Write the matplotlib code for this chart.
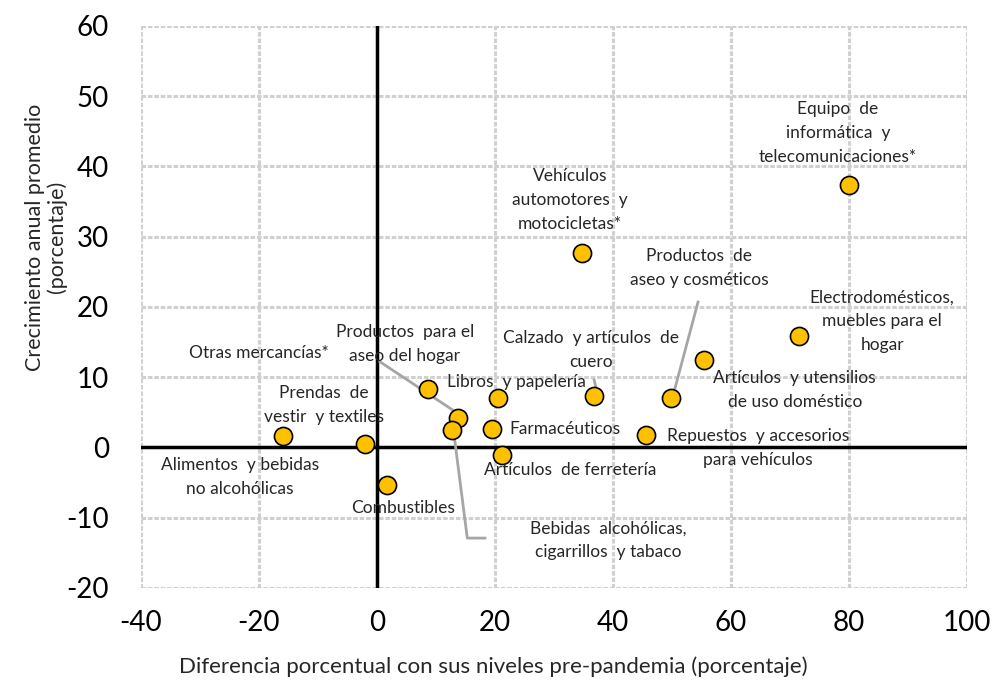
import matplotlib
matplotlib.use('Agg')
import matplotlib.pyplot as plt

plt.rcParams['font.family'] = ['Lato', 'DejaVu Sans']
plt.rcParams['axes.unicode_minus'] = False

# datos: diferencia vs pre-pandemia (x) y crecimiento anual promedio (y)
categorias = [
	'Alimentos  y bebidas\nno alcohólicas',
	'Prendas  de\nvestir  y textiles',
	'Combustibles',
	'Otras mercancías*',
	'Productos  para el\naseo del hogar',
	'Bebidas  alcohólicas,\ncigarrillos  y tabaco',
	'Libros  y papelería',
	'Farmacéuticos',
	'Artículos  de ferretería',
	'Vehículos\nautomotores  y\nmotocicletas*',
	'Calzado  y artículos  de\ncuero',
	'Repuestos  y accesorios\npara vehículos',
	'Productos  de\naseo y cosméticos',
	'Artículos  y utensilios\nde uso doméstico',
	'Electrodomésticos,\nmuebles para el\nhogar',
	'Equipo  de\ninformática  y\ntelecomunicaciones*',
]
dif_prepandemia = [-15.9, -2.0, 1.7, 8.6, 13.7, 12.7, 20.5, 19.5, 21.2, 34.7, 36.8, 45.6, 49.8, 55.4, 71.5, 80.0]
crec_anual = [1.6, 0.5, -5.3, 8.3, 4.2, 2.5, 7.0, 2.6, -1.1, 27.7, 7.3, 1.8, 7.0, 12.5, 15.9, 37.4]

x_ticks = [-40, -20, 0, 20, 40, 60, 80, 100]
y_ticks = [-20, -10, 0, 10, 20, 30, 40, 50, 60]

# posicion de las etiquetas (centro del texto) y lineas guia
label_pos = [(-23.2, -4.2), (-9.0, 6.0), (4.4, -8.6), (-20.0, 13.5), (4.7, 14.7),
	(39.2, -13.2), (23.6, 9.3), (31.9, 2.6), (32.7, -3.2), (32.7, 35.2),
	(36.3, 13.9), (64.6, -0.1), (54.6, 25.6), (70.8, 8.2), (85.6, 18.0), (78.1, 44.8)]
leaders = [
	[(0.5, 12.2), (13.6, 4.9)],
	[(13.1, 1.5), (15.3, -12.9), (18.3, -12.9)],
	[(36.8, 9.6), (37.3, 7.8)],
	[(54.4, 20.7), (50.3, 7.8)],
]

fig = plt.figure(figsize=(9.97, 6.84), dpi=100)
ax = fig.add_axes([0.1414, 0.1404, 0.8286, 0.8216])

for xt in x_ticks:
	ax.axvline(xt, color='#d0d0d0', lw=2.2, ls=(0, (1.5, 0.6)), zorder=0)
for yt in y_ticks:
	ax.axhline(yt, color='#d0d0d0', lw=2.2, ls=(0, (1.5, 0.6)), zorder=0)
ax.axhline(0, color='black', lw=2.5, zorder=1)
ax.axvline(0, color='black', lw=2.5, zorder=1)

for pts in leaders:
	ax.plot([p[0] for p in pts], [p[1] for p in pts], color='#a6a6a6', lw=2, zorder=2)

ax.scatter(dif_prepandemia, crec_anual, s=170, color='#FFC000', edgecolor='black', linewidth=1.2, zorder=3)

for lab, (lx, ly) in zip(categorias, label_pos):
	ax.text(lx, ly, lab, ha='center', va='center', fontsize=12.5, color='#262626', linespacing=1.6, zorder=4)

ax.set_xlim(-40, 100)
ax.set_ylim(-20, 60)
ax.set_xticks(x_ticks)
ax.set_yticks(y_ticks)
ax.tick_params(length=0, labelsize=20, colors='black')
ax.tick_params(axis='y', pad=23)
ax.tick_params(axis='x', pad=16)
for s in ax.spines.values():
	s.set_visible(False)

fig.text(0.495, 0.025, 'Diferencia porcentual con sus niveles pre-pandemia (porcentaje)',
	ha='center', va='center', fontsize=16, color='#262626')
fig.text(0.046, 1 - 237 / 684, 'Crecimiento anual promedio\n(porcentaje)', rotation=90,
	ha='center', va='center', fontsize=15.5, color='#262626', linespacing=1.05)

fig.savefig('out.png', dpi=100)
plt.close('all')
